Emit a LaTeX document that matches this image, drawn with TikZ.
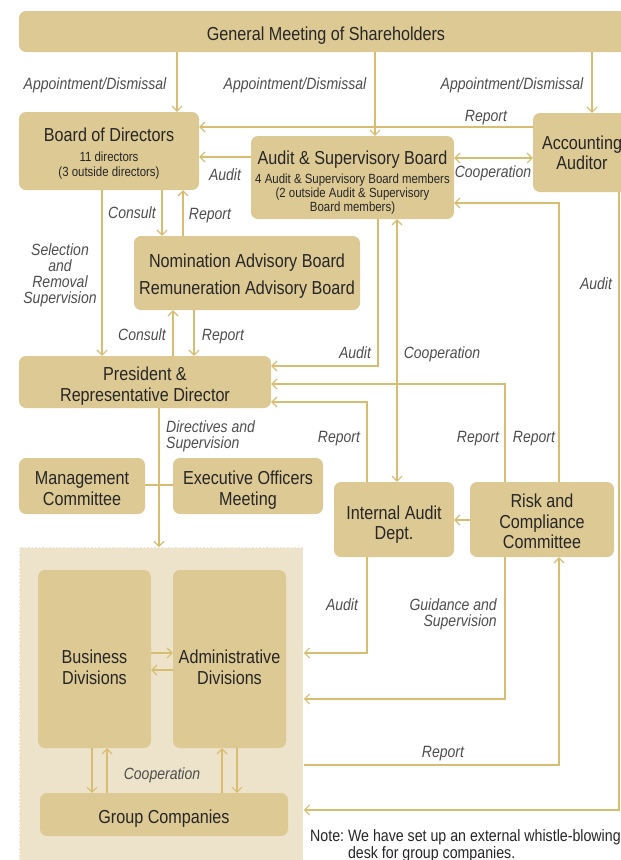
\documentclass[tikz,border=0pt]{standalone}
\usepackage{fontspec}
\setmainfont[FakeStretch=0.86]{Liberation Sans}
\usetikzlibrary{arrows.meta}
\definecolor{boxc}{RGB}{220,201,148}
\definecolor{linec}{RGB}{216,189,112}
\definecolor{areac}{RGB}{237,227,202}
\definecolor{txtc}{RGB}{38,38,38}
\definecolor{lblc}{RGB}{77,77,77}
\newcommand{\subf}{\fontsize{13.3}{14.5}\selectfont}
\newcommand{\lift}[1]{\rule{0pt}{#1}}
\tikzset{
	txt/.style={text=txtc, align=center, inner sep=0pt, text depth=0pt, font=\fontsize{18.8}{20.5}\selectfont},
	box/.style={txt, rectangle, rounded corners=7pt, fill=boxc, execute at begin node={\rule{0pt}{17.5pt}}},
	area/.style={rectangle, fill=areac, draw=white, dash pattern=on 2pt off 1.5pt, line width=0.8pt, inner sep=0pt},
	lbl/.style={text=lblc, align=center, inner sep=0pt, text depth=0pt, font=\fontsize{16.3}{16}\selectfont\itshape},
	con/.style={draw=linec, line width=1.1pt},
	arr/.style={con, -{Straight Barb[length=5pt,width=10pt]}},
	arrs/.style={con, {Straight Barb[length=5pt,width=10pt]}-{Straight Barb[length=5pt,width=10pt]}},
}
\begin{document}
\begin{tikzpicture}[x=1pt,y=-1pt]
	\useasboundingbox (0,0) rectangle (621,860);
	\clip (0,0) rectangle (621,860);
	% boxes
	\node[box, minimum width=614pt, minimum height=41pt] (gm) at (326,31.5) {General Meeting of Shareholders};
	\node[box, minimum width=180pt, minimum height=78pt] (bod) at (109,151) {\lift{16pt}Board of Directors\\[-1pt]\subf 11 directors\\[-5pt]\subf (3 outside directors)};
	\node[box, minimum width=203pt, minimum height=83pt] (asb) at (352.5,177.5) {\lift{21pt}Audit \& Supervisory Board\\[-1pt]\subf 4 Audit \& Supervisory Board members\\[-6.5pt]\subf (2 outside Audit \& Supervisory\\[-6.5pt]\subf Board members)};
	\node[box, minimum width=98pt, minimum height=79pt] (acc) at (582,152.5) {Accounting\\Auditor};
	\node[box, minimum width=226pt, minimum height=74pt] (nab) at (247,273) {\lift{15.5pt}Nomination Advisory Board\\[7pt]Remuneration Advisory Board};
	\node[box, minimum width=252pt, minimum height=52pt] (pres) at (145,382) {\lift{17.7pt}President \&\\Representative Director};
	\node[box, minimum width=126pt, minimum height=56pt] (mc) at (82,486) {\lift{17.7pt}Management\\Committee};
	\node[box, minimum width=150pt, minimum height=56pt] (eom) at (248,486) {\lift{17.7pt}Executive Officers\\Meeting};
	\node[box, minimum width=120pt, minimum height=75pt] (iad) at (394,519.5) {\lift{20pt}Internal Audit\\Dept.};
	\node[box, minimum width=144pt, minimum height=75pt] (rcc) at (542,519.5) {\lift{17pt}Risk and\\Compliance\\Committee};
	% group side
	\node[area, minimum width=284pt, minimum height=330pt, anchor=north west] (grp) at (19,547) {};
	\node[box, minimum width=113pt, minimum height=178pt] (bus) at (94.5,659) {};
	\node[txt] (bustxt) at (94.5,667) {Business\\Divisions};
	\node[box, minimum width=113pt, minimum height=178pt] (adm) at (229.5,659) {};
	\node[txt] (admtxt) at (229.5,667) {Administrative\\Divisions};
	\node[box, minimum width=248pt, minimum height=43pt] (gc) at (164,814.5) {Group Companies};
	% connectors
	\draw[arr] (gm.south -| 177,0) -- (bod.north -| 177,0);
	\draw[arr] (gm.south -| 375,0) -- (asb.north -| 375,0);
	\draw[arr] (gm.south -| 592,0) -- (acc.north -| 592,0);
	\draw[arr] (acc.west |- 0,127) -- (bod.east |- 0,127);
	\draw[arr] (asb.west |- 0,157) -- (bod.east |- 0,157);
	\draw[arrs] (asb.east |- 0,158) -- (acc.west |- 0,158);
	\draw[arr] (bod.south -| 162,0) -- (nab.north -| 162,0);
	\draw[arr] (nab.north -| 183,0) -- (bod.south -| 183,0);
	\draw[arr] (bod.south -| 102,0) -- (pres.north -| 102,0);
	\draw[arr] (pres.north -| 173,0) -- (nab.south -| 173,0);
	\draw[arr] (nab.south -| 194,0) -- (pres.north -| 194,0);
	\draw[arr] (asb.south -| 378,0) |- (pres.east |- 0,366);
	\draw[arrs] (asb.south -| 397,0) -- (iad.north -| 397,0);
	\draw[arr] (rcc.north -| 505,0) |- (pres.east |- 0,384);
	\draw[arr] (iad.north -| 367,0) |- (pres.east |- 0,402);
	\draw[arr] (rcc.north -| 559,0) |- (asb.east |- 0,203);
	\draw[arr] (acc.south -| 619,0) |- (grp.east |- 0,810);
	\draw[arr] (pres.south -| 159,0) -- (grp.north -| 159,0);
	\draw[con] (mc.east |- 0,485) -- (eom.west |- 0,485);
	\draw[arr] (rcc.west |- 0,520) -- (iad.east |- 0,520);
	\draw[arr] (iad.south -| 367,0) |- (grp.east |- 0,653);
	\draw[arr] (rcc.south -| 505,0) |- (grp.east |- 0,699);
	\draw[arr] (grp.east |- 0,765) -| (rcc.south -| 559,0);
	\draw[arr] (bus.east |- 0,653) -- (adm.west |- 0,653);
	\draw[arr] (adm.west |- 0,670) -- (bus.east |- 0,670);
	\draw[arr] (bus.south -| 92,0) -- (gc.north -| 92,0);
	\draw[arr] (gc.north -| 107,0) -- (bus.south -| 107,0);
	\draw[arr] (gc.north -| 222,0) -- (adm.south -| 222,0);
	\draw[arr] (adm.south -| 237,0) -- (gc.north -| 237,0);
	% labels
	\node[lbl] (ad1) at (95,84) {Appointment/Dismissal};
	\node[lbl] (ad2) at (295,84) {Appointment/Dismissal};
	\node[lbl] (ad3) at (512,84) {Appointment/Dismissal};
	\node[lbl] (rep1) at (486,116) {Report};
	\node[lbl] (aud1) at (225,175) {Audit};
	\node[lbl] (coop1) at (493,172) {Cooperation};
	\node[lbl] (cons1) at (132,213) {Consult};
	\node[lbl] (rep2) at (210,214) {Report};
	\node[lbl] (sel) at (60,274) {Selection\\and\\Removal\\Supervision};
	\node[lbl] (cons2) at (142,335) {Consult};
	\node[lbl] (rep3) at (223,335) {Report};
	\node[lbl] (aud2) at (355,353) {Audit};
	\node[lbl] (coop2) at (442,353) {Cooperation};
	\node[lbl, align=left, anchor=west] (dir) at (166,434.5) {Directives and\\Supervision};
	\node[lbl] (rep4) at (339,437) {Report};
	\node[lbl] (rep5) at (478,437) {Report};
	\node[lbl] (rep6) at (534,437) {Report};
	\node[lbl] (aud3) at (596,284) {Audit};
	\node[lbl] (aud4) at (342,605) {Audit};
	\node[lbl, align=right, anchor=east] (guid) at (497,613) {Guidance and\\Supervision};
	\node[lbl] (rep7) at (443,752) {Report};
	\node[lbl] (coop3) at (162,774) {Cooperation};
	\node[txt, font=\fontsize{16.5}{15}\selectfont, anchor=west] (note) at (310,840) {\begin{tabular}{@{}l@{\ }l@{}}Note: & We have set up an external whistle-blowing\\ & desk for group companies.\end{tabular}};
\end{tikzpicture}
\end{document}
